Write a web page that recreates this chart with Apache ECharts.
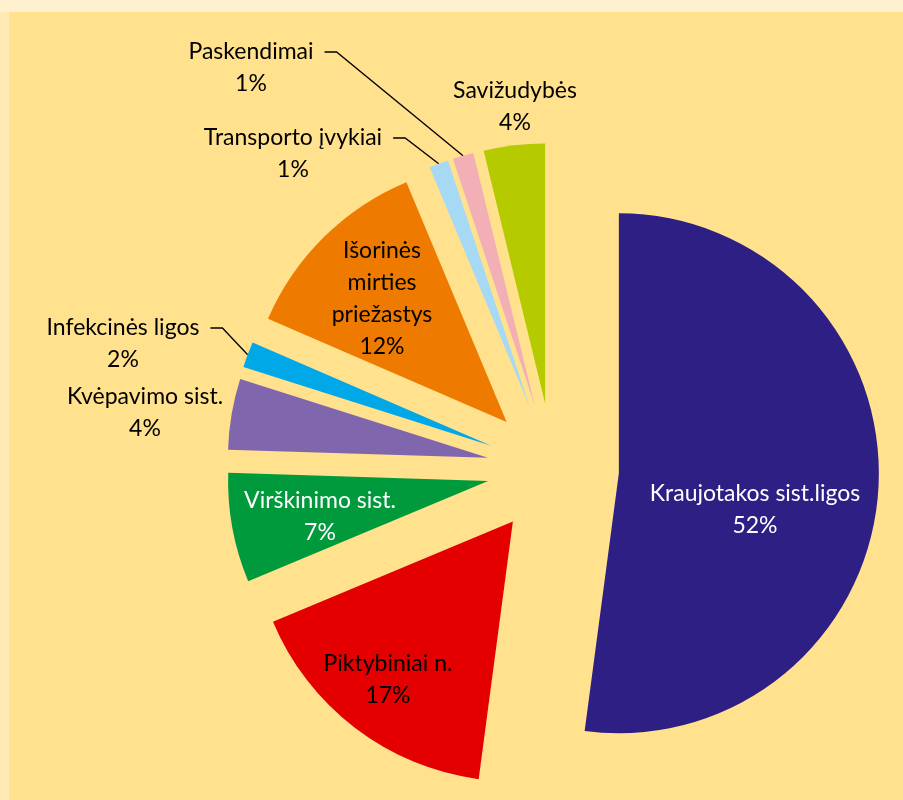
<!DOCTYPE html>
<html>
<head>
<meta charset="utf-8">
<title>Mirties priežastys</title>
<script src="https://cdn.jsdelivr.net/npm/echarts@6/dist/echarts.min.js"></script>
<style>
  html, body { margin: 0; padding: 0; background: #fff1cf; }
  #chart { width: 903px; height: 800px; }
</style>
</head>
<body>
<div id="chart"></div>
<script>
// shares of deaths by cause, %, clockwise from 12 o'clock
var causes = ['Kraujotakos sist.ligos', 'Piktybiniai n.', 'Virškinimo sist.', 'Kvėpavimo sist.',
  'Infekcinės ligos', 'Išorinės\nmirties\npriežastys', 'Transporto įvykiai', 'Paskendimai', 'Savižudybės']
var shares = [52.1, 16.6, 6.8, 4.4, 1.6, 12.2, 1.2, 1.3, 3.8]

var colors = ['#2e1f85', '#e40000', '#009a3d', '#7f66ad', '#00a8e8', '#ee7b00', '#a6daf4', '#f2afb6', '#b5cb00']
var textColors = ['#ffffff', '#000000', '#ffffff', '#000000', '#000000', '#000000', '#000000', '#000000', '#000000']

// where each label sits, and which ones get a leader line
var labelSpots = [[755, 510], [388, 680], [320, 517], [145, 413], [123, 344], [382, 299], [293, 154], [251, 68], [515, 107]]
var withLeader = [false, false, false, false, true, false, true, true, false]

var pieX = 553
var pieY = 469
var pieR = 260
var explode = 66

var total = shares.reduce(function(a, b) { return a + b }, 0)
var series = []
var cum = 0
causes.forEach(function(name, i) {
  var mid = (cum + shares[i] / 2) / total * Math.PI * 2
  cum += shares[i]
  // every slice is pulled out along its own middle angle
  var cx = pieX + explode * Math.sin(mid)
  var cy = pieY - explode * Math.cos(mid)
  var arcX = cx + pieR * Math.sin(mid)
  var arcY = cy - pieR * Math.cos(mid)
  series.push({
    type: 'pie',
    center: [cx, cy],
    radius: pieR,
    startAngle: 90,
    clockwise: true,
    silent: true,
    animation: false,
    avoidLabelOverlap: false,
    emphasis: { disabled: true },
    label: {
      position: 'outside',
      fontFamily: 'Lato',
      fontSize: 23,
      lineHeight: 32,
      align: 'center',
      formatter: function(p) {
        return p.name + '\n' + Math.round(p.percent) + '%'
      }
    },
    labelLine: {
      show: false,
      lineStyle: { color: '#000', width: 1.3 }
    },
    data: causes.map(function(n, j) {
      return {
        name: n,
        value: shares[j],
        itemStyle: { color: j === i ? colors[j] : 'rgba(0,0,0,0)', borderWidth: 0 },
        label: { show: j === i, color: textColors[j] },
        labelLine: { show: j === i && withLeader[j] }
      }
    }),
    labelLayout: function(p) {
      if (p.dataIndex !== i) return {}
      var s = labelSpots[i]
      var out = { x: s[0], y: s[1], align: 'center', verticalAlign: 'middle' }
      if (withLeader[i]) {
        var right = s[0] + p.labelRect.width / 2
        var tickY = s[1] - p.labelRect.height / 4
        out.labelLinePoints = [[arcX, arcY], [right + 23, tickY], [right + 11, tickY]]
      }
      return out
    }
  })
})

var chart = echarts.init(document.getElementById('chart'))
chart.setOption({
  backgroundColor: '#ffe18e',
  graphic: [
    { type: 'rect', shape: { x: 0, y: 0, width: 903, height: 12 }, style: { fill: '#fff1cf' }, silent: true },
    { type: 'rect', shape: { x: 0, y: 12, width: 9, height: 788 }, style: { fill: '#ffeab6' }, silent: true }
  ],
  series: series
})
</script>
</body>
</html>
